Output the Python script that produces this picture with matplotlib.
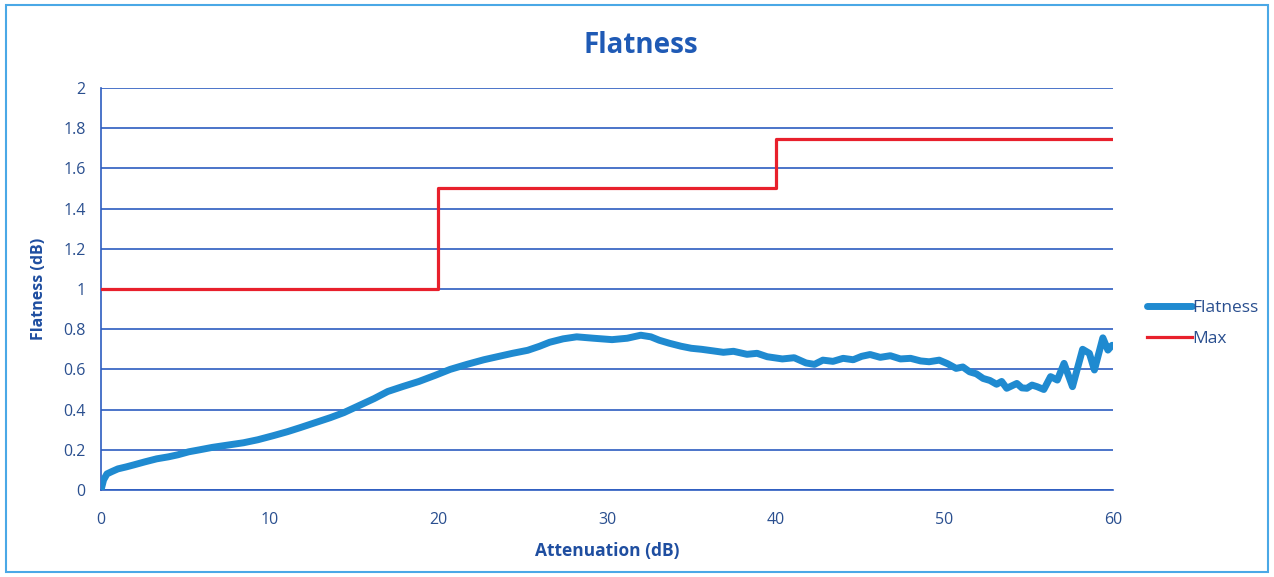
import matplotlib.pyplot as plt
import matplotlib.ticker as mticker
import numpy as np

# values
atten = [0.0, 0.15, 0.35, 0.65, 1.0, 1.5, 1.95, 2.6, 3.3, 4.0, 4.55, 5.2, 5.85,
         6.6, 7.4, 8.45, 9.3, 10.2, 11.05, 11.8, 12.7, 13.6, 14.4, 15.3, 16.2,
         17.0, 17.9, 18.85, 19.8, 20.7, 21.7, 22.7, 23.6, 24.4, 25.3, 26.0, 26.6,
         27.4, 28.2, 29.2, 30.3, 31.2, 32.0, 32.6, 33.1, 33.7, 34.4, 35.0, 35.6,
         36.3, 36.9, 37.5, 38.3, 38.9, 39.5, 40.4, 41.1, 41.8, 42.3, 42.8, 43.4,
         44.0, 44.6, 45.1, 45.6, 46.2, 46.8, 47.4, 48.0, 48.6, 49.1, 49.7, 50.2,
         50.7, 51.1, 51.5, 51.9, 52.3, 52.7, 53.1, 53.4, 53.7, 54.0, 54.3, 54.6,
         54.9, 55.2, 55.5, 55.9, 56.3, 56.7, 57.1, 57.6, 58.2, 58.6, 58.9, 59.4,
         59.7, 59.95]
flatness = [0.0, 0.05, 0.08, 0.092, 0.105, 0.115, 0.125, 0.14, 0.155, 0.165, 0.175,
            0.19, 0.2, 0.212, 0.222, 0.235, 0.25, 0.27, 0.29, 0.31, 0.335, 0.36, 0.385,
            0.42, 0.455, 0.49, 0.515, 0.54, 0.57, 0.6, 0.625, 0.648, 0.665, 0.68, 0.695,
            0.715, 0.735, 0.752, 0.762, 0.755, 0.748, 0.755, 0.77, 0.762, 0.745, 0.73,
            0.715, 0.705, 0.7, 0.692, 0.685, 0.69, 0.675, 0.68, 0.663, 0.652, 0.658, 0.632,
            0.625, 0.646, 0.64, 0.655, 0.648, 0.665, 0.674, 0.66, 0.668, 0.652, 0.655,
            0.642, 0.638, 0.646, 0.628, 0.605, 0.612, 0.588, 0.578, 0.555, 0.545, 0.526,
            0.54, 0.506, 0.518, 0.53, 0.508, 0.506, 0.522, 0.514, 0.5, 0.564, 0.547, 0.63,
            0.514, 0.7, 0.68, 0.597, 0.757, 0.696, 0.72]
max_x = [0, 20, 40, 60]
max_y = [1.0, 1.5, 1.745, 1.745]

blue = "#1f8ad0"
red = "#e8202c"
grid_blue = "#2c5cc0"
text_blue = "#2a4f8f"

plt.rcParams['font.family'] = ['Open Sans', 'DejaVu Sans']

fig = plt.figure(figsize=(12.74, 5.77), dpi=100)
ax = fig.add_axes([0.0793, 0.1508, 0.7943, 0.6967])

ax.plot(atten, flatness, color=blue, lw=5, solid_capstyle='round', label='Flatness', zorder=3)
ax.plot(max_x, max_y, color=red, lw=2.3, drawstyle='steps-post', label='Max', zorder=3)

ax.set_xlim(0, 60)
ax.set_ylim(0, 2)
ax.set_xticks(np.arange(0, 61, 10))
ax.set_yticks(np.arange(0, 2.01, 0.2))
ax.yaxis.set_major_formatter(mticker.FuncFormatter(lambda v, pos: "%g" % round(v, 1)))
ax.tick_params(length=0, labelsize=11.5, labelcolor=text_blue)
ax.tick_params(axis='x', pad=16)
ax.tick_params(axis='y', pad=11)
ax.grid(axis='y', color=grid_blue, lw=1.2)
ax.set_axisbelow(True)
for s in ['top', 'right']:
    ax.spines[s].set_visible(False)
ax.spines['left'].set_color(grid_blue)
ax.spines['bottom'].set_color(grid_blue)
ax.spines['left'].set_linewidth(1.2)
ax.spines['bottom'].set_linewidth(1.2)

ax.set_xlabel('Attenuation (dB)', color="#1f4ea0", fontweight='bold', fontsize=12.5, labelpad=10)
ax.set_ylabel('Flatness (dB)', color="#1f4ea0", fontweight='bold', fontsize=11.5, labelpad=12)
fig.text(0.503, 0.922, 'Flatness', ha='center', va='center', color="#1f5ab5",
         fontweight='bold', fontsize=20)

leg = fig.legend(loc='center left', bbox_to_anchor=(0.888, 0.44), frameon=False,
                 handlelength=2.6, handletextpad=0.0, labelspacing=0.85, fontsize=12.5)
for t in leg.get_texts():
    t.set_color(text_blue)

# outer frame
fig.patches.append(plt.Rectangle((0.005, 0.008), 0.99, 0.984, transform=fig.transFigure,
                                 fill=False, edgecolor="#4aa8e6", lw=1.5))

fig.savefig('out.png', dpi=100)
